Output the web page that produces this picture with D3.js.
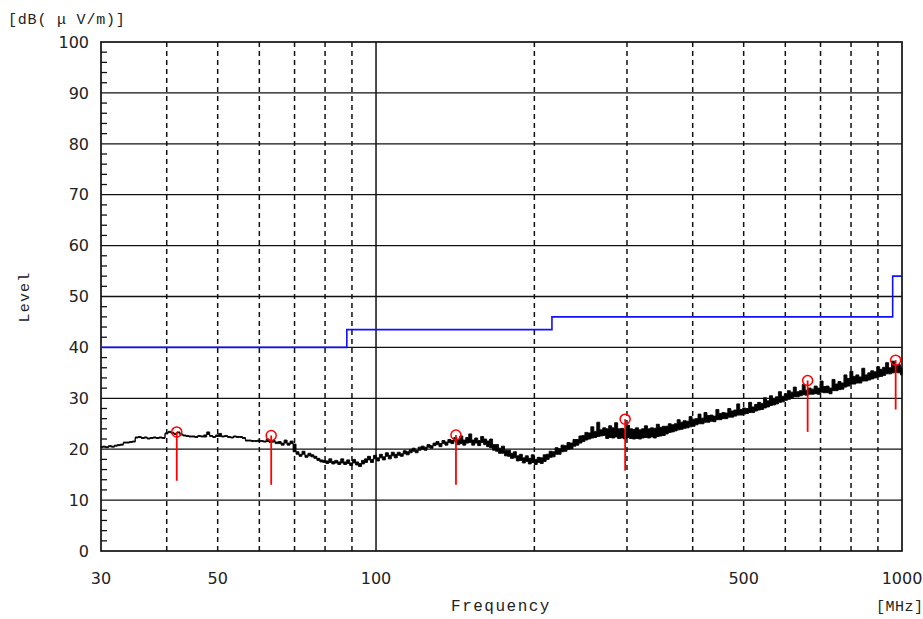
<!DOCTYPE html>
<html>
<head>
<meta charset="utf-8">
<script src="https://cdn.jsdelivr.net/npm/d3@7"></script>
<style>
  body { margin: 0; background: #fff; }
  svg text { fill: #222; }
  .mono { font-family: "Liberation Mono", "DejaVu Sans Mono", monospace; font-size: 15px; }
  .num { font-family: "DejaVu Sans", Verdana, sans-serif; font-size: 16px; }
</style>
</head>
<body>
<svg id="chart" width="923" height="619"></svg>
<script>
// --- data ---
const yTicks = [0, 10, 20, 30, 40, 50, 60, 70, 80, 90, 100];
const xTickLabels = [30, 50, 100, 500, 1000];
const xDashed = [40, 50, 60, 70, 80, 90, 200, 300, 400, 500, 600, 700, 800, 900];
const xSolid = [100];

// limit line (blue), stepped
const limitFreq = [30, 88, 88, 216, 216, 960, 960, 1000];
const limitLevel = [40, 40, 43.5, 43.5, 46, 46, 54, 54];

// measured trace: 270 display bins from 30 to 1000 MHz (log sweep),
// max and min level of each bin in dB(uV/m)
const sweepStart = 30, sweepStop = 1000;
const traceMax = [
  20.5, 20.6, 20.5, 20.7, 20.6, 20.8, 20.9, 21.0, 21.4, 21.4,
  21.5, 21.6, 22.4, 22.5, 22.3, 22.4, 22.2, 22.3, 22.4, 22.3,
  22.4, 22.3, 23.2, 23.5, 23.3, 23.1, 23.4, 23.0, 22.8, 22.7,
  22.6, 22.6, 22.5, 22.7, 22.6, 22.8, 23.4, 22.7, 22.5, 22.8,
  23.1, 22.6, 22.7, 22.5, 22.4, 22.6, 22.5, 22.5, 22.3, 21.8,
  21.8, 21.7, 21.7, 21.8, 21.7, 21.6, 22.0, 21.5, 21.7, 21.4,
  21.5, 21.2, 21.8, 21.2, 21.6, 21.0, 19.5, 19.0, 19.6, 18.8,
  19.2, 18.9, 18.6, 18.2, 17.9, 17.8, 17.7, 18.1, 17.6, 17.8,
  17.5, 18.1, 17.5, 17.9, 17.3, 18.0, 17.5, 17.2, 17.8, 18.1,
  18.6, 18.0, 18.8, 18.3, 19.0, 18.5, 19.3, 18.8, 19.4, 19.0,
  19.4, 19.1, 19.7, 19.5, 19.9, 20.2, 19.8, 20.4, 20.6, 20.4,
  20.9, 20.7, 21.2, 21.5, 21.1, 21.7, 21.4, 21.9, 21.7, 22.3,
  21.9, 22.6, 21.8, 22.3, 23.0, 21.8, 22.2, 21.7, 22.5, 22.0,
  21.6, 22.0, 20.9, 20.9, 20.2, 20.6, 19.8, 19.8, 19.2, 19.5,
  18.7, 19.0, 18.3, 18.7, 18.2, 18.9, 18.0, 18.4, 18.3, 18.9,
  19.0, 19.6, 19.5, 20.3, 20.1, 20.8, 20.7, 21.3, 21.2, 21.9,
  21.9, 22.6, 22.7, 23.3, 23.2, 24.4, 23.5, 25.3, 23.8, 24.2,
  24.0, 24.6, 24.2, 25.2, 24.0, 24.1, 23.8, 24.7, 24.0, 23.9,
  24.2, 23.8, 24.0, 24.6, 24.0, 24.2, 24.1, 24.9, 24.3, 24.5,
  24.5, 25.0, 24.8, 25.0, 25.8, 25.3, 25.6, 25.5, 26.4, 25.9,
  26.0, 26.9, 26.1, 27.2, 26.6, 26.7, 26.5, 27.8, 27.0, 27.2,
  27.1, 28.0, 27.5, 27.7, 28.9, 27.8, 28.1, 28.0, 29.2, 28.3,
  28.8, 29.2, 29.0, 30.1, 29.5, 30.5, 29.9, 30.3, 31.3, 30.4,
  30.9, 31.5, 31.2, 32.2, 31.3, 31.5, 32.7, 31.6, 32.0, 31.8,
  32.4, 32.0, 33.4, 32.3, 32.4, 32.0, 33.7, 32.8, 33.3, 33.0,
  34.6, 33.9, 35.3, 34.3, 34.6, 34.2, 35.9, 34.6, 35.0, 35.4,
  35.2, 36.2, 35.7, 36.1, 37.0, 36.0, 37.3, 36.5, 36.6, 36.0
];
const traceMin = [
  20.3, 20.4, 20.3, 20.5, 20.4, 20.6, 20.7, 20.8, 21.2, 21.2,
  21.3, 21.4, 22.2, 22.3, 22.1, 22.2, 22.0, 22.1, 22.2, 22.1,
  22.2, 22.1, 23.0, 23.3, 23.1, 22.9, 23.2, 22.8, 22.6, 22.5,
  22.4, 22.4, 22.3, 22.5, 22.4, 22.4, 22.9, 22.5, 22.3, 22.5,
  22.5, 22.4, 22.5, 22.3, 22.2, 22.4, 22.3, 22.3, 22.1, 21.6,
  21.6, 21.5, 21.5, 21.5, 21.5, 21.4, 21.5, 21.3, 21.4, 21.1,
  21.1, 20.8, 21.2, 20.8, 21.1, 19.5, 19.0, 18.6, 19.0, 18.4,
  18.7, 18.5, 18.2, 17.8, 17.5, 17.4, 17.2, 17.4, 17.1, 17.3,
  17.0, 17.3, 17.0, 17.2, 16.8, 17.3, 16.9, 16.6, 17.1, 17.4,
  17.9, 17.4, 18.1, 17.7, 18.3, 17.9, 18.6, 18.1, 18.7, 18.3,
  18.8, 18.6, 19.1, 18.9, 19.3, 19.6, 19.3, 19.8, 20.0, 19.8,
  20.4, 20.2, 20.7, 20.9, 20.5, 21.1, 20.8, 21.3, 21.1, 21.6,
  20.9, 21.1, 20.8, 21.2, 21.3, 20.8, 21.2, 20.7, 21.3, 20.9,
  20.5, 20.3, 19.8, 19.6, 19.2, 19.2, 18.7, 18.6, 18.2, 18.3,
  17.7, 17.8, 17.3, 17.6, 17.1, 17.4, 17.0, 17.4, 17.2, 17.6,
  18.0, 18.4, 18.5, 19.0, 19.0, 19.5, 19.6, 20.0, 20.1, 20.6,
  20.8, 21.2, 21.5, 21.8, 22.0, 22.2, 22.3, 22.5, 22.6, 22.7,
  22.1, 22.3, 22.2, 22.4, 22.1, 22.2, 22.0, 22.3, 22.1, 22.0,
  22.1, 22.0, 22.2, 22.3, 22.2, 22.4, 22.2, 22.5, 22.6, 22.7,
  23.0, 23.3, 23.4, 23.6, 23.8, 23.9, 24.1, 24.2, 24.4, 24.5,
  24.8, 25.0, 25.0, 25.3, 25.3, 25.5, 25.4, 25.8, 25.8, 26.0,
  26.0, 26.3, 26.3, 26.5, 26.7, 26.7, 26.9, 27.0, 27.2, 27.2,
  27.5, 27.7, 27.8, 28.1, 28.3, 28.6, 28.7, 28.9, 29.2, 29.3,
  29.6, 29.8, 30.0, 30.3, 30.3, 30.5, 30.7, 30.6, 30.8, 30.8,
  30.9, 30.8, 31.2, 31.1, 31.1, 30.9, 31.5, 31.5, 31.7, 31.8,
  32.2, 32.4, 32.8, 32.8, 33.0, 33.0, 33.4, 33.4, 33.6, 33.8,
  34.0, 34.2, 34.3, 34.5, 34.8, 34.8, 35.0, 35.1, 35.0, 34.6
];

// markers (red): frequency, peak level (circle), lower level (line end)
const markerFreq = [41.8, 63.2, 141.9, 297.6, 661.6, 972.6];
const markerPeak = [23.4, 22.7, 22.8, 25.9, 33.5, 37.5];
const markerLow = [13.8, 13.0, 13.0, 15.8, 23.4, 27.8];

// --- layout ---
const W = 923, H = 619;
const margin = { top: 42, right: 21, bottom: 68, left: 101 };
const svg = d3.select("#chart");

const x = d3.scaleLog().domain([30, 1000]).range([margin.left, W - margin.right]);
const y = d3.scaleLinear().domain([0, 100]).range([H - margin.bottom, margin.top]);

const traceFreq = traceMax.map((_, i) =>
  sweepStart * Math.pow(sweepStop / sweepStart, i / (traceMax.length - 1)));

// horizontal grid
svg.append("g")
  .selectAll("line")
  .data(yTicks.filter(d => d > 0 && d < 100))
  .enter().append("line")
  .attr("x1", x(30)).attr("x2", x(1000))
  .attr("y1", d => y(d)).attr("y2", d => y(d))
  .attr("stroke", "#111").attr("stroke-width", 1.3);

// vertical dashed grid
svg.append("g")
  .selectAll("line")
  .data(xDashed)
  .enter().append("line")
  .attr("x1", d => x(d)).attr("x2", d => x(d))
  .attr("y1", y(100)).attr("y2", y(0))
  .attr("stroke", "#111").attr("stroke-width", 1.5)
  .attr("stroke-dasharray", "5,4");

svg.append("g")
  .selectAll("line")
  .data(xSolid)
  .enter().append("line")
  .attr("x1", d => x(d)).attr("x2", d => x(d))
  .attr("y1", y(100)).attr("y2", y(0))
  .attr("stroke", "#111").attr("stroke-width", 1.5);

// minor ticks on left axis every 2 dB
svg.append("g")
  .selectAll("line")
  .data(d3.range(0, 101, 2).filter(d => d % 10 !== 0))
  .enter().append("line")
  .attr("x1", x(30)).attr("x2", x(30) + 6)
  .attr("y1", d => y(d)).attr("y2", d => y(d))
  .attr("stroke", "#111").attr("stroke-width", 1.3);

// frame
svg.append("rect")
  .attr("x", x(30)).attr("y", y(100))
  .attr("width", x(1000) - x(30)).attr("height", y(0) - y(100))
  .attr("fill", "none").attr("stroke", "#111").attr("stroke-width", 1.7);

// limit line
svg.append("path")
  .datum(limitFreq.map((f, i) => [f, limitLevel[i]]))
  .attr("d", d3.line().x(d => x(d[0])).y(d => y(d[1])))
  .attr("fill", "none").attr("stroke", "#1010ff").attr("stroke-width", 1.6);

// trace: min/max band per bin
svg.append("path")
  .datum(traceFreq.map((f, i) => ({ f, hi: traceMax[i], lo: traceMin[i] })))
  .attr("d", d3.area().curve(d3.curveStep)
    .x(d => x(d.f)).y0(d => y(d.lo)).y1(d => y(d.hi)))
  .attr("fill", "#000").attr("stroke", "#000").attr("stroke-width", 0.9)
  .attr("stroke-linejoin", "miter");

// markers
const mk = svg.append("g")
  .selectAll("g")
  .data(markerFreq.map((f, i) => ({ f, peak: markerPeak[i], low: markerLow[i] })))
  .enter().append("g");
mk.append("line")
  .attr("x1", d => x(d.f)).attr("x2", d => x(d.f))
  .attr("y1", d => y(d.peak)).attr("y2", d => y(d.low))
  .attr("stroke", "#ff0000").attr("stroke-width", 1.8);
mk.append("circle")
  .attr("cx", d => x(d.f)).attr("cy", d => y(d.peak))
  .attr("r", 5)
  .attr("fill", "none").attr("stroke", "#ff0000").attr("stroke-width", 1.5);

// y tick labels
svg.append("g")
  .selectAll("text")
  .data(yTicks)
  .enter().append("text")
  .attr("class", "num")
  .attr("x", margin.left - 12)
  .attr("y", d => y(d))
  .attr("dy", "0.36em")
  .attr("text-anchor", "end")
  .text(d => d);

// x tick labels
svg.append("g")
  .selectAll("text")
  .data(xTickLabels)
  .enter().append("text")
  .attr("class", "num")
  .attr("x", d => x(d))
  .attr("y", 584)
  .attr("text-anchor", "middle")
  .text(d => d);

// axis titles
svg.append("text").attr("class", "mono")
  .attr("x", 8).attr("y", 24)
  .style("letter-spacing", "0.8px")
  .text("[dB( \u03bc V/m)]");

svg.append("text").attr("class", "mono")
  .attr("transform", "translate(29,297) rotate(-90)")
  .attr("text-anchor", "middle")
  .style("letter-spacing", "1.2px")
  .text("Level");

svg.append("text").attr("class", "mono")
  .attr("x", 501).attr("y", 611)
  .attr("text-anchor", "middle")
  .style("font-size", "16px")
  .style("letter-spacing", "1.5px")
  .text("Frequency");

svg.append("text").attr("class", "mono")
  .attr("x", 876).attr("y", 611)
  .style("letter-spacing", "0.5px")
  .text("[MHz]");
</script>
</body>
</html>
